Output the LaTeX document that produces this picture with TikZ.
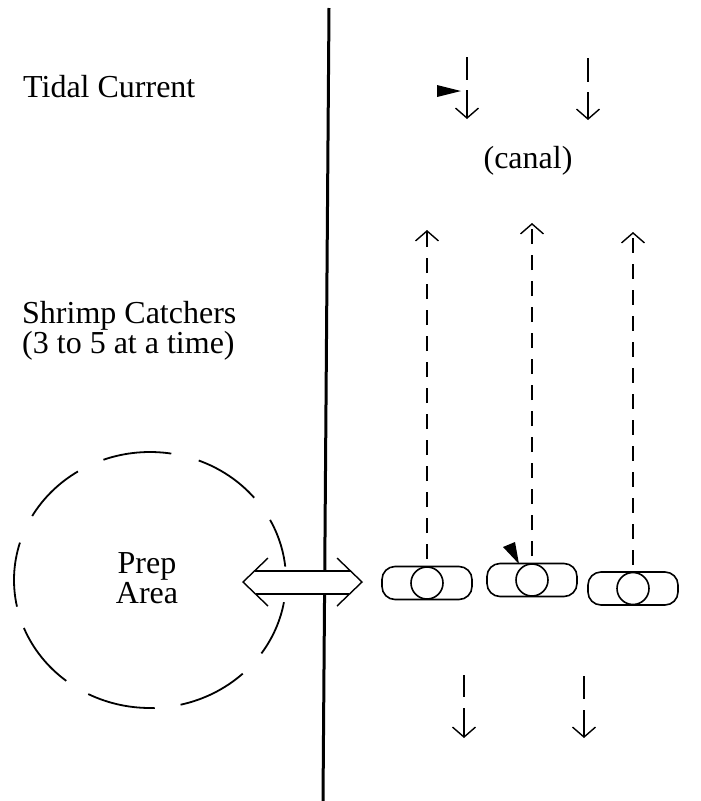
\documentclass[tikz,border=0pt]{standalone}
\usepackage{fontspec}
\setmainfont{Liberation Serif}
\usetikzlibrary{arrows.meta}
\begin{document}
\begin{tikzpicture}[x=1pt,y=-1pt,
  lbl/.style={inner sep=0pt,font=\fontsize{32}{32}\selectfont},
  barb/.style={-{Straight Barb[length=10pt,width=23pt,line width=1.4pt]}},
  boat/.style={draw,line width=1.6pt,rounded corners=13pt,minimum width=90pt,minimum height=33pt,inner sep=0pt},
  hull/.style={draw,circle,line width=1.6pt,minimum size=32pt,inner sep=0pt},
  trail/.style={line width=1.4pt,dash pattern=on 15pt off 11pt,shorten <=7pt},
  flow/.style={line width=1.6pt},
  rim/.style={line width=1.8pt},
  flag/.style={fill=black}]
\useasboundingbox (0,0) rectangle (701,801);

% dividing bank line
\coordinate (ltop) at (329,8);
\coordinate (lbot) at (323,801);
\draw[line width=3pt] (ltop) -- (lbot);

% prep area (dashed ellipse drawn as arcs)
\coordinate (prep) at (150,580);
\foreach \a/\b in {81/110, 40/69, 6/28, -35/-10, -77/-47, -117/-88, -158/-128, 163/192, 122/150}
  \draw[rim] (prep) ++(-\a:136 and 128) arc[start angle=-\a, end angle=-\b, x radius=136, y radius=128];
\node[lbl,anchor=base] (prep1) at (147,573) {Prep};
\node[lbl,anchor=base] (prep2) at (147,603) {Area};

% double arrow (white filled shaft)
\coordinate (dl) at (243,582);
\coordinate (dr) at (362,582);
\fill[white] (dl) -- (254.5,571) -- (350.5,571) -- (dr) -- (350.5,594) -- (254.5,594) -- cycle;
\draw[line width=1.4pt] (254.5,571) -- (350.5,571);
\draw[line width=1.4pt] (256,594) -- (349,594);
\draw[line width=1.4pt,line join=miter] (268,558) -- (dl) -- (268,606);
\draw[line width=1.4pt,line join=miter] (337,558) -- (dr) -- (337,606);

% labels
\node[lbl,anchor=base west] (tidal) at (23,97) {Tidal Current};
\node[lbl,anchor=base] (canal) at (528,168) {(canal)};
\node[lbl,anchor=base west] (shrimp1) at (22,323) {Shrimp Catchers};
\node[lbl,anchor=base west] (shrimp2) at (22,353) {(3 to 5 at a time)};

% tidal current arrows (top)
\coordinate (a1s) at (467,57); \coordinate (a1m) at (467,80);
\coordinate (a1n) at (467,90); \coordinate (a1e) at (467,119);
\draw[flow] (a1s) -- (a1m);
\draw[flow,barb] (a1n) -- (a1e);
\coordinate (a2s) at (588,58); \coordinate (a2m) at (588,82);
\coordinate (a2n) at (588,92); \coordinate (a2e) at (588,120);
\draw[flow] (a2s) -- (a2m);
\draw[flow,barb] (a2n) -- (a2e);
\fill[flag] (437,85) -- (461,91) -- (437,97) -- cycle;

% tidal current arrows (bottom)
\coordinate (b1s) at (464,675); \coordinate (b1m) at (464,697);
\coordinate (b1n) at (464,708); \coordinate (b1e) at (464,738);
\draw[flow] (b1s) -- (b1m);
\draw[flow,barb] (b1n) -- (b1e);
\coordinate (b2s) at (584,676); \coordinate (b2m) at (584,699);
\coordinate (b2n) at (584,710); \coordinate (b2e) at (584,738);
\draw[flow] (b2s) -- (b2m);
\draw[flow,barb] (b2n) -- (b2e);

% boats
\node[boat] (boat1) at (427,583) {};
\node[hull] (c1) at (427,583) {};
\node[boat] (boat2) at (532,580) {};
\node[hull] (c2) at (532,580) {};
\node[boat] (boat3) at (633,588.5) {};
\node[hull] (c3) at (633,588.5) {};
\fill[flag] (503,547) -- (515,542) -- (519,564) -- cycle;

% trails of boats
\coordinate (t1) at (427,230);
\coordinate (t2) at (532,223);
\coordinate (t3) at (633,232);
\draw[trail,barb] (c1.north) -- (t1);
\draw[trail,barb] (c2.north) -- (t2);
\draw[trail,barb] (c3.north) -- (t3);
\end{tikzpicture}
\end{document}
